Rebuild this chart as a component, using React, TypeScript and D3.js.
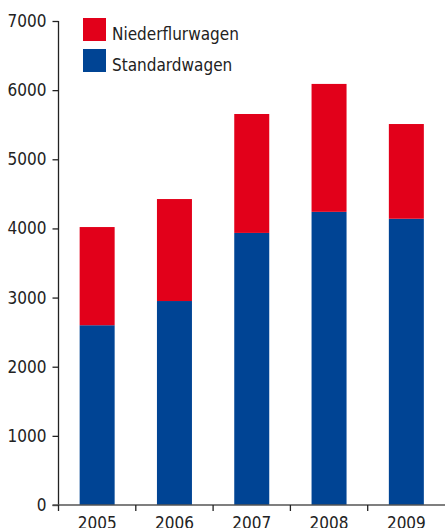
import React, { useRef, useEffect } from 'react';
import * as d3 from 'd3';

const years = ['2005', '2006', '2007', '2008', '2009'];
const standardwagen = [2600, 2950, 3935, 4240, 4140];
const niederflurwagen = [1420, 1475, 1720, 1850, 1370];
const yTicks = [0, 1000, 2000, 3000, 4000, 5000, 6000, 7000];
const seriesNames = ['Niederflurwagen', 'Standardwagen'];
const colors = ['#e2001a', '#004494'];

const FONT = '"Liberation Sans Narrow", "DejaVu Sans Condensed", "Roboto", sans-serif';

export default function App() {
    const svgRef = useRef(null);

    useEffect(() => {
        if (!svgRef.current) return;
        const svg = d3.select(svgRef.current);
        svg.selectAll('*').remove();

        const width = 445;
        const x0 = 58.5;
        const yBase = 505;

        const x = d3.scaleBand().domain(years).range([x0, width]).padding(0);
        const y = d3.scaleLinear().domain([0, 7000]).range([yBase, 21]);
        const barW = 35;

        const stack = years.map((yr, i) => ({ yr, s: standardwagen[i], n: niederflurwagen[i] }));

        // blue bottom
        svg.append('g').selectAll('rect').data(stack).enter().append('rect')
            .attr('x', d => x(d.yr) + x.bandwidth() / 2 - barW / 2)
            .attr('width', barW)
            .attr('y', d => y(d.s))
            .attr('height', d => yBase - y(d.s))
            .attr('fill', colors[1]);

        // red top
        svg.append('g').selectAll('rect').data(stack).enter().append('rect')
            .attr('x', d => x(d.yr) + x.bandwidth() / 2 - barW / 2)
            .attr('width', barW)
            .attr('y', d => y(d.s + d.n))
            .attr('height', d => y(d.s) - y(d.s + d.n))
            .attr('fill', colors[0]);

        // y axis
        const ya = svg.append('g').attr('transform', `translate(${x0},0)`)
            .call(d3.axisLeft(y).tickValues(yTicks).tickSize(6).tickPadding(6).tickFormat(d3.format('d')));
        ya.select('.domain').attr('stroke', '#222').attr('stroke-width', 1.3).attr('d', `M0,${y(7000)}V${yBase}`);
        ya.selectAll('line').attr('stroke', '#222').attr('stroke-width', 1.3);
        ya.selectAll('text').attr('font-family', FONT).attr('font-size', 17).attr('fill', '#222');

        // x axis
        const xa = svg.append('g').attr('transform', `translate(0,${yBase})`)
            .call(d3.axisBottom(x).tickSize(0).tickPadding(12));
        xa.select('.domain').attr('stroke', '#555').attr('stroke-width', 1.5).attr('d', `M${x0 - 6},0H${width}`);
        xa.selectAll('text').attr('font-family', FONT).attr('font-size', 17).attr('fill', '#222');

        // category separators
        svg.append('g').selectAll('line').data(years).enter().append('line')
            .attr('x1', d => x(d)).attr('x2', d => x(d))
            .attr('y1', yBase).attr('y2', yBase + 6)
            .attr('stroke', '#222').attr('stroke-width', 1.3);

        // legend
        const lg = svg.append('g');
        seriesNames.forEach((name, i) => {
            lg.append('rect').attr('x', 83).attr('y', 18 + i * 31).attr('width', 23).attr('height', 23).attr('fill', colors[i]);
            lg.append('text').attr('x', 112).attr('y', 40 + i * 31)
                .attr('font-family', FONT).attr('font-size', 17).attr('fill', '#222').text(name);
        });
    }, []);

    return (
        <svg ref={svgRef} width={445} height={528}
            style={{ position: 'absolute', left: 0, top: 0, background: '#fff' }} />
    );
}
